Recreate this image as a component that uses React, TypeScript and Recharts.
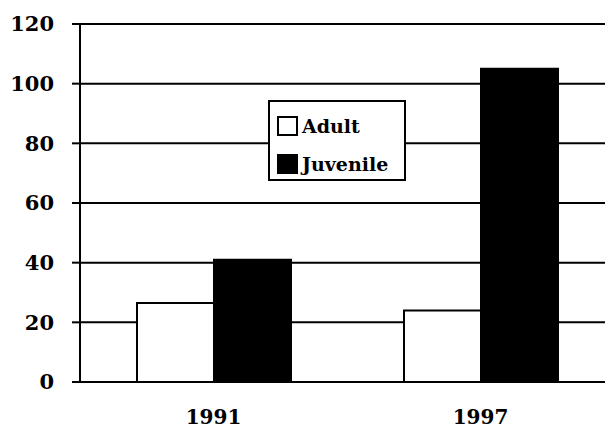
import { BarChart, Bar, XAxis, YAxis, CartesianGrid, Legend } from 'recharts';

const years = ['1991', '1997'];
const adult = [26.5, 24];
const juvenile = [41, 105];
const yTicks = [0, 20, 40, 60, 80, 100, 120];

const data = years.map((year, i) => ({ year, adult: adult[i], juvenile: juvenile[i] }));

const serif = '"DejaVu Serif", "Liberation Serif", serif';

function LegendBox() {
  const items = [
    { label: 'Adult', fill: '#fff' },
    { label: 'Juvenile', fill: '#000' },
  ];
  return (
    <div
      style={{
        width: 138,
        height: 81,
        boxSizing: 'border-box',
        border: '2px solid #000',
        background: '#fff',
        padding: '14px 0 0 7px',
        fontFamily: serif,
        fontWeight: 'bold',
        fontSize: 19,
        color: '#000',
      }}
    >
      {items.map((it) => (
        <div key={it.label} style={{ display: 'flex', alignItems: 'center', height: 20, marginBottom: 18 }}>
          <span
            style={{
              display: 'inline-block',
              width: 21,
              height: 20,
              boxSizing: 'border-box',
              border: '2px solid #000',
              background: it.fill,
              marginRight: 4,
            }}
          />
          <span>{it.label}</span>
        </div>
      ))}
    </div>
  );
}

export default function App() {
  return (
    <div style={{ position: 'fixed', left: 0, top: 0, width: 605, height: 432, overflow: 'hidden', background: '#fff' }}>
      <BarChart
        width={620}
        height={432}
        data={data}
        margin={{ top: 24, right: 6, bottom: 0, left: 0 }}
        barGap={0}
        barSize={77}
      >
        <CartesianGrid vertical={false} stroke="#000" strokeWidth={2} />
        <XAxis
          dataKey="year"
          axisLine={{ stroke: '#000', strokeWidth: 2 }}
          tickLine={false}
          tickSize={0}
          tickMargin={28}
          height={50}
          tick={{ fill: '#000', fontFamily: serif, fontWeight: 'bold', fontSize: 20 }}
        />
        <YAxis
          domain={[0, 120]}
          ticks={yTicks}
          width={80}
          axisLine={{ stroke: '#000', strokeWidth: 2 }}
          tickLine={{ stroke: '#000', strokeWidth: 2 }}
          tickSize={8}
          tickMargin={18}
          tick={{ fill: '#000', fontFamily: serif, fontWeight: 'bold', fontSize: 21 }}
        />
        <Legend
          layout="vertical"
          align="center"
          verticalAlign="middle"
          content={<LegendBox />}
          wrapperStyle={{ position: 'absolute', left: 268, top: 100, width: 138, height: 81 }}
        />
        <Bar dataKey="adult" name="Adult" fill="#fff" stroke="#000" strokeWidth={2} isAnimationActive={false} />
        <Bar dataKey="juvenile" name="Juvenile" fill="#000" stroke="#000" strokeWidth={2} isAnimationActive={false} />
      </BarChart>
    </div>
  );
}
